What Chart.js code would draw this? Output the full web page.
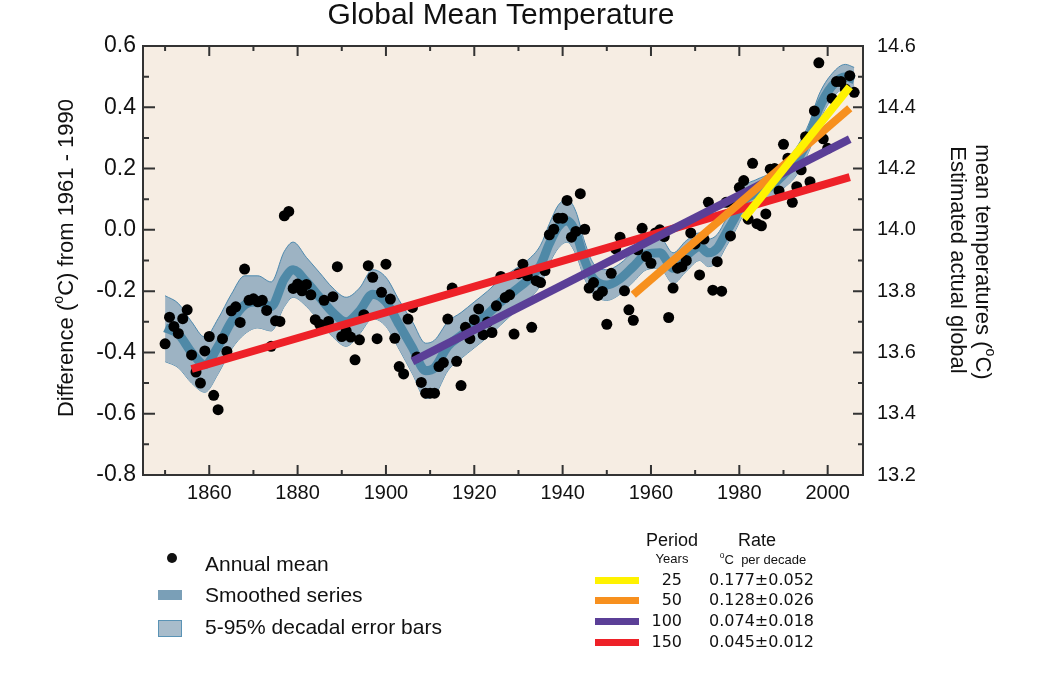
<!DOCTYPE html>
<html lang="en">
<head>
<meta charset="UTF-8">
<title>Global Mean Temperature</title>
<script src="https://cdn.jsdelivr.net/npm/chart.js"></script>
<style>
  body { margin: 0; background: #fff; }
  canvas { display: block; }
</style>
</head>
<body>
<canvas id="tempChart" width="1050" height="678"></canvas>
<script>
// annual global means, difference (deg C) from 1961-1990, one value per year from 1850
const firstYear = 1850;
const annualMean = [
  -0.372, -0.285, -0.315, -0.338, -0.290, -0.261, -0.408, -0.464, -0.500, -0.395, // 1850s
  -0.348, -0.540, -0.587, -0.355, -0.397, -0.264, -0.251, -0.302, -0.128, -0.230, // 1860s
  -0.225, -0.235, -0.230, -0.263, -0.380, -0.297, -0.299, 0.046, 0.060, -0.191,   // 1870s
  -0.177, -0.199, -0.178, -0.212, -0.293, -0.308, -0.230, -0.299, -0.218, -0.120, // 1880s
  -0.348, -0.330, -0.350, -0.424, -0.359, -0.277, -0.117, -0.155, -0.355, -0.204, // 1890s
  -0.112, -0.226, -0.354, -0.446, -0.470, -0.291, -0.253, -0.415, -0.498, -0.533, // 1900s
  -0.533, -0.533, -0.446, -0.433, -0.291, -0.190, -0.429, -0.508, -0.318, -0.355, // 1910s
  -0.293, -0.258, -0.342, -0.301, -0.335, -0.248, -0.152, -0.221, -0.212, -0.340, // 1920s
  -0.143, -0.112, -0.150, -0.318, -0.166, -0.172, -0.133, -0.016, 0.002, 0.038,   // 1930s
  0.038, 0.096, -0.024, -0.005, 0.118, 0.002, -0.190, -0.172, -0.214, -0.201,     // 1940s
  -0.308, -0.142, -0.062, -0.024, -0.199, -0.261, -0.295, -0.065, 0.005, -0.087,  // 1950s
  -0.109, -0.010, 0.000, -0.022, -0.286, -0.190, -0.125, -0.120, -0.100, -0.010,  // 1960s
  -0.046, -0.147, -0.030, 0.090, -0.197, -0.104, -0.200, 0.090, -0.020, 0.087,    // 1970s
  0.138, 0.161, 0.035, 0.217, 0.020, 0.013, 0.052, 0.198, 0.200, 0.127,           // 1980s
  0.279, 0.234, 0.090, 0.141, 0.196, 0.304, 0.157, 0.388, 0.545, 0.297,           // 1990s
  0.266, 0.429, 0.484, 0.484, 0.460, 0.503, 0.449                                 // 2000s
];

// smoothed series and its 5-95% decadal error band
const smoothYears = [1850, 1853, 1856, 1859, 1862, 1865, 1868, 1871, 1874, 1877, 1879, 1882, 1885, 1888,
  1891, 1894, 1897, 1900, 1903, 1906, 1909, 1911, 1914, 1917, 1920, 1923, 1926, 1929, 1932, 1935, 1937,
  1939, 1941, 1943, 1945, 1947, 1950, 1953, 1956, 1959, 1962, 1965, 1968, 1971, 1973, 1975, 1977, 1979,
  1981, 1984, 1987, 1990, 1993, 1996, 1998, 2001, 2004, 2006];
const smoothed = [-0.32, -0.34, -0.40, -0.44, -0.38, -0.30, -0.245, -0.235, -0.25, -0.16, -0.13, -0.17, -0.22, -0.27,
  -0.30, -0.265, -0.21, -0.235, -0.31, -0.385, -0.46, -0.45, -0.38, -0.345, -0.31, -0.275, -0.235, -0.20, -0.165, -0.115, -0.045,
  0.01, 0.03, -0.01, -0.10, -0.16, -0.18, -0.16, -0.12, -0.08, -0.075, -0.125, -0.085, -0.055, -0.075, -0.06, -0.01, 0.04,
  0.095, 0.12, 0.14, 0.18, 0.225, 0.31, 0.395, 0.47, 0.50, 0.49];
const errUpper = [-0.215, -0.24, -0.30, -0.35, -0.29, -0.21, -0.15, -0.15, -0.17, -0.07, -0.04, -0.09, -0.14, -0.19,
  -0.22, -0.19, -0.13, -0.155, -0.23, -0.30, -0.37, -0.36, -0.30, -0.27, -0.235, -0.20, -0.16, -0.13, -0.10, -0.05, 0.02,
  0.08, 0.10, 0.06, -0.04, -0.11, -0.13, -0.11, -0.07, -0.03, -0.025, -0.075, -0.035, -0.01, -0.03, -0.015, 0.035, 0.085,
  0.14, 0.165, 0.185, 0.225, 0.27, 0.355, 0.44, 0.51, 0.54, 0.53];
const errLower = [-0.43, -0.45, -0.50, -0.53, -0.47, -0.39, -0.34, -0.32, -0.33, -0.25, -0.22, -0.25, -0.30, -0.35,
  -0.38, -0.34, -0.29, -0.315, -0.39, -0.47, -0.55, -0.54, -0.46, -0.42, -0.385, -0.35, -0.31, -0.27, -0.23, -0.18, -0.11,
  -0.06, -0.04, -0.08, -0.16, -0.21, -0.23, -0.21, -0.17, -0.13, -0.125, -0.175, -0.135, -0.10, -0.12, -0.105, -0.055, -0.005,
  0.05, 0.075, 0.095, 0.135, 0.18, 0.265, 0.35, 0.43, 0.46, 0.45];

// linear trends, all periods end in 2005
const trendPeriods = ['25', '50', '100', '150'];
const trendStartYear = [1981, 1956, 1906, 1856];
const trendEndYear = [2005, 2005, 2005, 2005];
const trendStartVal = [0.036, -0.212, -0.429, -0.454];
const trendEndVal = [0.467, 0.397, 0.296, 0.172];
const trendRates = ['0.177\u00b10.052', '0.128\u00b10.026', '0.074\u00b10.018', '0.045\u00b10.012'];
const trendColors = ['#fff200', '#f7901e', '#5b3f97', '#ee2128'];

const baseTemp = 14.0; // right axis = anomaly + 14.0

Chart.defaults.font.family = '"Liberation Sans", Arial, sans-serif';
Chart.defaults.color = '#111';

const annualPoints = annualMean.map((v, i) => ({ x: firstYear + i, y: v }));
const pts = (xs, ys) => xs.map((x, i) => ({ x: x, y: ys[i] }));

const trendSets = trendPeriods.map((p, i) => ({
  label: p + ' years',
  data: [{ x: trendStartYear[i], y: trendStartVal[i] }, { x: trendEndYear[i], y: trendEndVal[i] }],
  borderColor: trendColors[i],
  borderWidth: 8,
  borderCapStyle: 'butt',
  pointRadius: 0,
  fill: false,
  order: i + 1
}));

// tick label every 0.2, blank for the 0.1 minor steps
function evenTenth(v) {
  if (Math.round(v * 10) % 2 !== 0) return '';
  return Math.abs(v) < 1e-9 ? '0.0' : v.toFixed(1);
}

// draw text made of pieces, some of them superscript
function textParts(ctx, parts, x, y, size, align) {
  let w = 0;
  parts.forEach(p => {
    ctx.font = (p.sup ? size * 0.65 : size) + 'px ' + (p.fam || '"Liberation Sans", Arial');
    p.w = ctx.measureText(p.t).width;
    w += p.w;
  });
  let cx = align === 'center' ? x - w / 2 : (align === 'right' ? x - w : x);
  ctx.textAlign = 'left';
  parts.forEach(p => {
    ctx.font = (p.sup ? size * 0.65 : size) + 'px ' + (p.fam || '"Liberation Sans", Arial');
    ctx.textBaseline = 'middle';
    ctx.fillText(p.t, cx, p.sup ? y - size * 0.35 : y);
    cx += p.w;
  });
}

const decorPlugin = {
  id: 'decor',
  beforeDraw(chart) {
    const { ctx, chartArea: a } = chart;
    ctx.save();
    ctx.fillStyle = '#f6ede3';
    ctx.fillRect(a.left, a.top, a.right - a.left, a.bottom - a.top);
    ctx.restore();
  },
  afterDraw(chart) {
    const { ctx, chartArea: a, scales } = chart;
    ctx.save();
    // frame
    ctx.strokeStyle = '#333';
    ctx.lineWidth = 2;
    ctx.strokeRect(a.left, a.top, a.right - a.left, a.bottom - a.top);
    // inward ticks
    ctx.beginPath();
    scales.x.ticks.forEach(t => {
      const px = scales.x.getPixelForValue(t.value);
      const len = t.value % 20 === 0 ? 10 : 5;
      ctx.moveTo(px, a.bottom); ctx.lineTo(px, a.bottom - len);
      ctx.moveTo(px, a.top); ctx.lineTo(px, a.top + len);
    });
    scales.y.ticks.forEach(t => {
      const py = scales.y.getPixelForValue(t.value);
      const major = Math.round(t.value * 10) % 2 === 0;
      ctx.moveTo(a.left, py); ctx.lineTo(a.left + (major ? 12 : 6), py);
      ctx.moveTo(a.right, py); ctx.lineTo(a.right - (major ? 10 : 5), py);
    });
    ctx.stroke();

    ctx.fillStyle = '#111';
    // title
    ctx.font = '30px "Liberation Sans", Arial';
    ctx.textAlign = 'center';
    ctx.textBaseline = 'middle';
    ctx.fillText('Global Mean Temperature', 501, 16);

    // left axis title
    ctx.save();
    ctx.translate(67, 258);
    ctx.rotate(-Math.PI / 2);
    textParts(ctx, [{ t: 'Difference (' }, { t: 'o', sup: true }, { t: 'C) from 1961 - 1990' }], 0, 0, 22, 'center');
    ctx.restore();

    // right axis title, two lines read top to bottom
    ctx.save();
    ctx.translate(957, 260);
    ctx.rotate(Math.PI / 2);
    textParts(ctx, [{ t: 'Estimated actual global' }], 0, 0, 22, 'center');
    ctx.restore();
    ctx.save();
    ctx.translate(982, 262);
    ctx.rotate(Math.PI / 2);
    textParts(ctx, [{ t: 'mean temperatures (' }, { t: 'o', sup: true }, { t: 'C)' }], 0, 0, 22, 'center');
    ctx.restore();

    // legend, left block
    ctx.beginPath();
    ctx.arc(172, 558, 5, 0, Math.PI * 2);
    ctx.fill();
    ctx.fillStyle = '#7a9fb7';
    ctx.fillRect(158, 590, 24, 10);
    ctx.fillStyle = '#a8bccb';
    ctx.fillRect(158, 620, 24, 17);
    ctx.strokeStyle = '#5a93b5';
    ctx.lineWidth = 1;
    ctx.strokeRect(158.5, 620.5, 23, 16);
    ctx.fillStyle = '#111';
    textParts(ctx, [{ t: 'Annual mean' }], 205, 565, 21, 'left');
    textParts(ctx, [{ t: 'Smoothed series' }], 205, 596, 21, 'left');
    textParts(ctx, [{ t: '5-95% decadal error bars' }], 205, 628, 21, 'left');

    // legend, trend block
    textParts(ctx, [{ t: 'Period' }], 672, 541, 18, 'center');
    textParts(ctx, [{ t: 'Rate' }], 757, 541, 18, 'center');
    textParts(ctx, [{ t: 'Years' }], 672, 559, 13, 'center');
    textParts(ctx, [{ t: 'o', sup: true }, { t: 'C  per decade' }], 763, 560, 13, 'center');
    const rowY = [581, 601, 622, 643];
    trendPeriods.forEach((p, i) => {
      ctx.fillStyle = trendColors[i];
      ctx.fillRect(595, rowY[i] - 4, 44, 7);
      ctx.fillStyle = '#111';
      textParts(ctx, [{ t: p, fam: '"DejaVu Sans"' }], 682, rowY[i], 16, 'right');
      textParts(ctx, [{ t: trendRates[i], fam: '"DejaVu Sans"' }], 709, rowY[i], 16, 'left');
    });
    ctx.restore();
  }
};

new Chart(document.getElementById('tempChart'), {
  type: 'line',
  data: {
    datasets: [
      ...trendSets,
      {
        label: 'Annual mean',
        data: annualPoints,
        showLine: false,
        pointRadius: 5.5,
        pointBackgroundColor: '#000',
        pointBorderWidth: 0,
        order: 5
      },
      {
        label: 'Smoothed series',
        data: pts(smoothYears, smoothed),
        borderColor: '#4f89a7',
        borderWidth: 9,
        pointRadius: 0,
        cubicInterpolationMode: 'monotone',
        fill: false,
        order: 6
      },
      {
        label: 'error upper',
        data: pts(smoothYears, errUpper),
        borderColor: '#4d89ae',
        borderWidth: 1,
        backgroundColor: '#9db3c3',
        pointRadius: 0,
        cubicInterpolationMode: 'monotone',
        fill: '+1',
        order: 7
      },
      {
        label: 'error lower',
        data: pts(smoothYears, errLower),
        borderColor: '#4d89ae',
        borderWidth: 1,
        pointRadius: 0,
        cubicInterpolationMode: 'monotone',
        fill: false,
        order: 8
      }
    ]
  },
  options: {
    responsive: false,
    animation: false,
    layout: { padding: { top: 46, left: 0, right: 0, bottom: 0 } },
    plugins: { legend: { display: false }, tooltip: { enabled: false } },
    scales: {
      x: {
        type: 'linear',
        min: 1845,
        max: 2008,
        grid: { display: false, drawTicks: false },
        border: { display: false },
        ticks: {
          stepSize: 10,
          maxTicksLimit: 20,
          includeBounds: false,
          autoSkip: false,
          maxRotation: 0,
          padding: 6,
          font: { size: 20 },
          callback: v => (v % 20 === 0 ? String(v) : '')
        },
        afterFit: s => { s.height = 203; }
      },
      y: {
        position: 'left',
        min: -0.8,
        max: 0.6,
        grid: { display: false, drawTicks: false },
        border: { display: false },
        ticks: {
          stepSize: 0.1,
          maxTicksLimit: 20,
          includeBounds: false,
          padding: 7,
          font: { size: 23 },
          callback: evenTenth
        },
        afterFit: s => { s.width = 143; }
      },
      y2: {
        position: 'right',
        min: baseTemp - 0.8,
        max: baseTemp + 0.6,
        grid: { display: false, drawTicks: false },
        border: { display: false },
        ticks: {
          stepSize: 0.1,
          maxTicksLimit: 20,
          includeBounds: false,
          padding: 14,
          font: { size: 20 },
          callback: evenTenth
        },
        afterFit: s => { s.width = 187; }
      }
    }
  },
  plugins: [decorPlugin]
});
</script>
</body>
</html>
